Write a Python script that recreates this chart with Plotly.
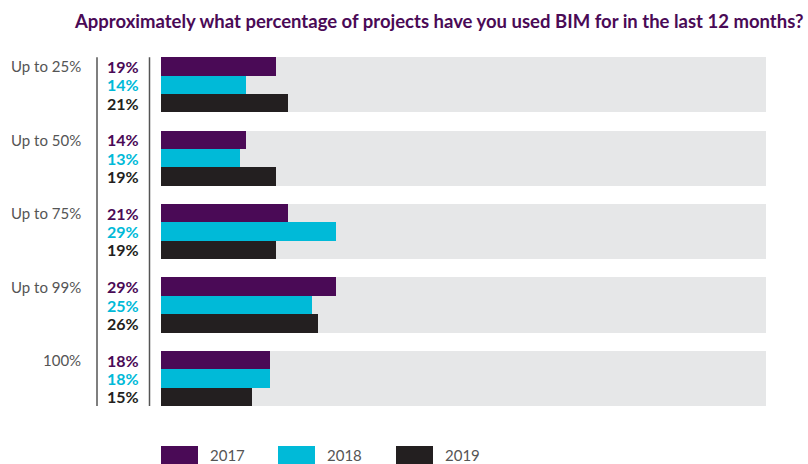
import plotly.graph_objects as go

categories = ["Up to 25%", "Up to 50%", "Up to 75%", "Up to 99%", "100%"]
years = ["2017", "2018", "2019"]
v2017 = [19, 14, 21, 29, 18]
v2018 = [14, 13, 29, 25, 18]
v2019 = [21, 19, 19, 26, 15]
series = [v2017, v2018, v2019]
colors = ["#4A0A56", "#00BAD8", "#231F20"]
title = "Approximately what percentage of projects have you used BIM for in the last 12 months?"

W, H = 808, 464
x0px, x1px = 161, 766
top_center, spacing = 84.8, 73.4
yr_top = -top_center / spacing
yr_bot = (H - top_center) / spacing

fig = go.Figure()
n = len(categories)
idx = list(range(n))
fig.add_trace(go.Bar(y=idx, x=[100] * n, orientation="h", width=0.75,
                     marker=dict(color="#E6E7E8", line=dict(width=0)),
                     showlegend=False, hoverinfo="skip"))
for j, (vals, col, yr) in enumerate(zip(series, colors, years)):
    ys = [i + (j - 1) * 0.25 for i in idx]
    fig.add_trace(go.Bar(y=ys, x=vals, orientation="h", width=0.25, name=yr,
                         marker=dict(color=col, line=dict(width=0)), showlegend=False))

annotations = []
shapes = []
label_font = dict(family="Lato, Open Sans, sans-serif", size=15, color="#555555")
for i, cat in enumerate(categories):
    annotations.append(dict(x=83 / W, xref="paper", y=i - 0.25, yref="y", text=cat,
                            showarrow=False, xanchor="right", yanchor="middle", font=label_font))
    for j, (vals, col) in enumerate(zip(series, colors)):
        annotations.append(dict(x=141 / W, xref="paper", y=i + (j - 1) * 0.25, yref="y",
                                text=f"<b>{vals[i]}%</b>", showarrow=False, xanchor="right",
                                yanchor="middle",
                                font=dict(family="Lato, Open Sans, sans-serif", size=16, color=col)))

for xp in (97, 149.5):
    shapes.append(dict(type="line", xref="paper", yref="y", x0=xp / W, x1=xp / W,
                       y0=-0.375, y1=n - 1 + 0.375, line=dict(color="#555555", width=1.5)))

# custom legend
leg_boxes = [(161, 198), (278, 315), (396, 433)]
for (bx0, bx1), col, yr in zip(leg_boxes, colors, years):
    shapes.append(dict(type="rect", xref="paper", yref="paper", x0=bx0 / W, x1=bx1 / W,
                       y0=0, y1=(H - 446) / H, fillcolor=col, line=dict(width=0)))
    annotations.append(dict(x=(bx1 + 10) / W, xref="paper", y=(H - 455) / H, yref="paper",
                            text=yr, showarrow=False, xanchor="left", yanchor="middle",
                            font=label_font))

annotations.append(dict(x=806 / W, xref="paper", y=(H - 21) / H, yref="paper",
                        text=f"<b>{title}</b>", showarrow=False, xanchor="right", yanchor="middle",
                        font=dict(family="Lato, Open Sans, sans-serif", size=18.5, color="#4A0A56")))

fig.update_layout(
    width=W, height=H, margin=dict(l=0, r=0, t=0, b=0),
    paper_bgcolor="white", plot_bgcolor="white", barmode="overlay", bargap=0,
    xaxis=dict(range=[0, 100], domain=[x0px / W, x1px / W], visible=False, fixedrange=True),
    yaxis=dict(range=[yr_bot, yr_top], domain=[0, 1], visible=False, fixedrange=True),
    annotations=annotations, shapes=shapes,
)
fig.write_html("out.html")
